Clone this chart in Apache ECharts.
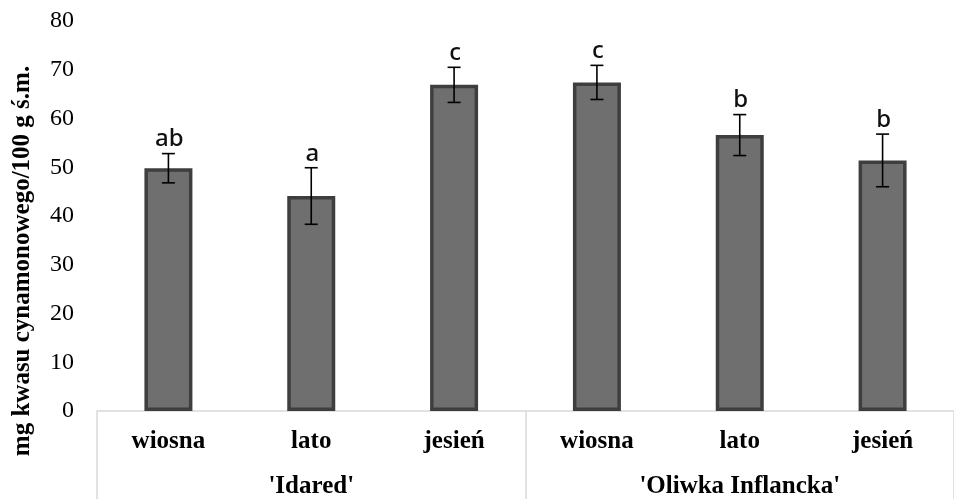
<!DOCTYPE html>
<html>
<head>
<meta charset="utf-8">
<script src="https://cdn.jsdelivr.net/npm/echarts@6/dist/echarts.min.js"></script>
<style>html,body{margin:0;padding:0;background:#fff}#c{width:954px;height:499px}</style>
</head>
<body>
<div id="c"></div>
<script>
const seasons = ['wiosna', 'lato', 'jesień', 'wiosna', 'lato', 'jesień'];
const cultivars = ["'Idared'", "'Oliwka Inflancka'"];
const means = [49.8, 44.1, 66.9, 67.4, 56.6, 51.4];
const errors = [3.0, 5.8, 3.6, 3.5, 4.2, 5.4];
const letters = ['ab', 'a', 'c', 'c', 'b', 'b'];
const yTicks = [0, 10, 20, 30, 40, 50, 60, 70, 80];
const yTitle = 'mg kwasu cynamonowego/100 g ś.m.';

const serif = '"Liberation Serif", "Times New Roman", serif';
const chart = echarts.init(document.getElementById('c'), null, {renderer: 'canvas'});

const errData = means.map((m, i) => [i, m - errors[i], m + errors[i], letters[i]]);

chart.setOption({
  animation: false,
  grid: {left: 97, top: 21, bottom: 83, width: 868, containLabel: false},
  xAxis: [
    {
      type: 'category', data: seasons, position: 'bottom',
      axisLine: {show: true, lineStyle: {color: '#d9d9d9', width: 1.5}},
      axisTick: {show: false},
      axisLabel: {fontFamily: serif, fontWeight: 'bold', fontSize: 25, color: '#000', margin: 18, interval: 0}
    },
    {
      type: 'category', data: cultivars, position: 'bottom', offset: 0,
      axisLine: {show: false},
      axisTick: {show: true, length: 90, lineStyle: {color: '#d9d9d9', width: 1.5}},
      axisLabel: {fontFamily: serif, fontWeight: 'bold', fontSize: 25, color: '#000', margin: 63, interval: 0}
    }
  ],
  yAxis: {
    type: 'value', min: yTicks[0], max: yTicks[yTicks.length - 1], interval: 10,
    axisLine: {show: false}, axisTick: {show: false}, splitLine: {show: false},
    axisLabel: {fontFamily: serif, fontSize: 24, color: '#000', margin: 23},
    name: yTitle, nameLocation: 'middle', nameRotate: 90, nameGap: 62,
    nameTextStyle: {fontFamily: serif, fontWeight: 'bold', fontSize: 25, color: '#000', padding: [0, 90, 0, 0]}
  },
  series: [
    {
      type: 'bar', data: means, xAxisIndex: 0, barWidth: 48,
      itemStyle: {color: '#6f6f6f', borderColor: '#3e3e3e', borderWidth: 3.5}
    },
    {
      type: 'custom', xAxisIndex: 0, data: errData, z: 10,
      renderItem: function (params, api) {
        const x = api.value(0);
        const lo = api.coord([x, api.value(1)]);
        const hi = api.coord([x, api.value(2)]);
        const w = 6.5;
        const st = {stroke: '#000', lineWidth: 1.6};
        return {
          type: 'group',
          children: [
            {type: 'line', shape: {x1: hi[0], y1: hi[1], x2: lo[0], y2: lo[1]}, style: st},
            {type: 'line', shape: {x1: hi[0] - w, y1: hi[1], x2: hi[0] + w, y2: hi[1]}, style: st},
            {type: 'line', shape: {x1: lo[0] - w, y1: lo[1], x2: lo[0] + w, y2: lo[1]}, style: st},
            {type: 'text', x: hi[0] + 1, y: hi[1] - 2, style: {
              text: api.value(3), fill: '#111', font: '500 24px "Noto Sans", "Open Sans", sans-serif',
              align: 'center', verticalAlign: 'bottom'}}
          ]
        };
      }
    }
  ]
});
</script>
</body>
</html>
